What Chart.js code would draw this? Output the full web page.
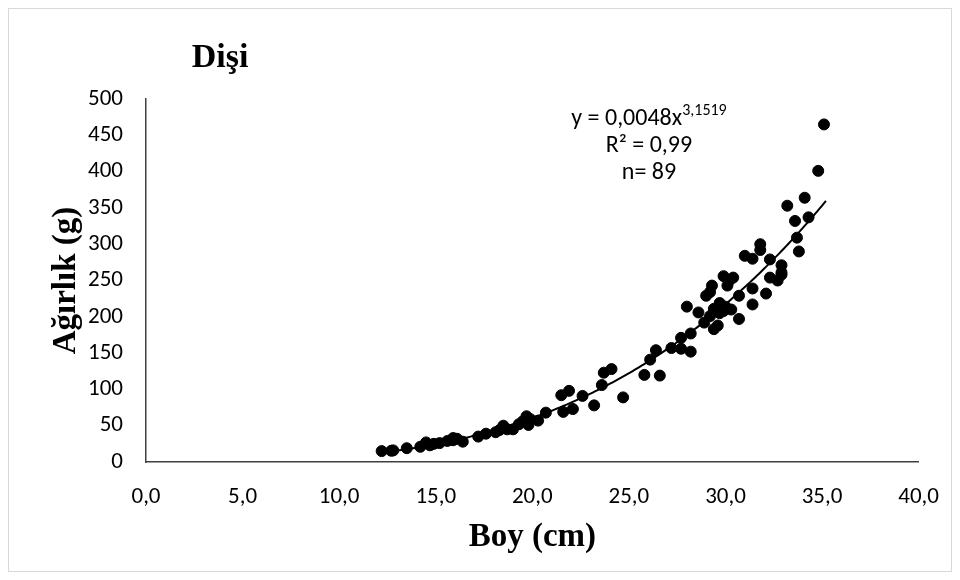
<!DOCTYPE html>
<html>
<head>
<meta charset="utf-8">
<script src="https://cdn.jsdelivr.net/npm/chart.js"></script>
<style>
  html, body { margin: 0; padding: 0; background: #fff; }
  #wrap { position: relative; width: 960px; height: 580px; }
  #frame { position: absolute; left: 8px; top: 8px; width: 944px; height: 564px; border: 1px solid #d9d9d9; box-sizing: border-box; }
  canvas { position: absolute; left: 0; top: 0; }
</style>
</head>
<body>
<div id="wrap">
  <div id="frame"></div>
  <canvas id="c" width="960" height="580"></canvas>
</div>
<script>
// Boy (cm) and Ağırlık (g)
const boy = [
  12.2, 12.7, 12.8, 13.5, 14.2, 14.5, 14.7, 14.9, 15.2, 15.6,
  15.9, 15.9, 16.1, 16.4, 17.2, 17.6, 18.1, 18.3, 18.5, 18.7,
  19.0, 19.3, 19.5, 19.7, 19.8, 19.9, 20.3, 20.7, 21.5, 21.9,
  21.6, 22.1, 22.6, 23.2, 23.6, 23.7, 24.1, 24.7, 25.8, 26.1,
  26.4, 26.6, 27.2, 27.7, 27.7, 28.2, 28.2, 28.0, 28.6, 28.9,
  29.2, 29.2, 29.3, 29.4, 29.6, 29.4, 29.7, 29.7, 29.9, 30.1,
  30.0, 30.4, 30.3, 30.7, 30.7, 31.4, 31.4, 31.0, 31.4, 35.1,
  34.8, 34.1, 33.2, 34.3, 33.6, 33.7, 33.8, 31.8, 31.8, 32.3,
  32.9, 32.9, 32.9, 32.3, 32.7, 32.1, 29.9, 30.2, 29.0
];
const agirlik = [
  15, 15.5, 16, 19, 21, 27, 23, 25, 26, 29,
  33, 30, 32, 28, 35, 39, 41, 44, 50, 45,
  45, 52, 56, 63, 51, 59, 57, 68, 92, 98,
  69, 73, 91, 78, 106, 123, 128, 89, 120, 141,
  154, 119, 157, 156, 171, 152, 177, 214, 206, 192,
  201, 234, 243, 183, 188, 211, 219, 205, 256, 243,
  214, 254, 210, 197, 229, 217, 239, 284, 280, 465,
  401, 364, 353, 337, 332, 309, 290, 300, 292, 279,
  271, 261, 258, 254, 250, 232, 208, 250, 229
];
const xTicks = [0, 5, 10, 15, 20, 25, 30, 35, 40];
const yTicks = [0, 50, 100, 150, 200, 250, 300, 350, 400, 450, 500];

// power trendline y = a * x^b as printed on the chart
const fitA = 0.0048;
const fitB = 3.1519;
const fitFrom = 12.2;
const fitTo = 35.2;

const points = boy.map((x, i) => ({ x: x, y: agirlik[i] }));
const tickFont = "Carlito, Calibri, 'Open Sans', sans-serif";
const serif = "'Liberation Serif', 'DejaVu Serif', serif";

const extras = {
  id: 'extras',
  beforeDatasetsDraw(chart) {
    const ctx = chart.ctx, xs = chart.scales.x, ys = chart.scales.y;
    ctx.save();
    ctx.beginPath();
    for (let i = 0; i <= 200; i++) {
      const v = fitFrom + (fitTo - fitFrom) * i / 200;
      const px = xs.getPixelForValue(v), py = ys.getPixelForValue(fitA * Math.pow(v, fitB));
      if (i === 0) ctx.moveTo(px, py); else ctx.lineTo(px, py);
    }
    ctx.strokeStyle = '#000';
    ctx.lineWidth = 2;
    ctx.stroke();
    ctx.restore();
  },
  afterDraw(chart) {
    const ctx = chart.ctx, area = chart.chartArea;
    ctx.save();
    ctx.fillStyle = '#000';
    ctx.textBaseline = 'middle';
    ctx.textAlign = 'center';

    // chart title and axis titles
    ctx.font = "bold 34px " + serif;
    ctx.fillText('Dişi', 220, 58);
    ctx.font = "bold 33px " + serif;
    ctx.fillText('Boy (cm)', (area.left + area.right) / 2, 537);
    ctx.save();
    ctx.translate(66, (area.top + area.bottom) / 2);
    ctx.rotate(-Math.PI / 2);
    ctx.fillText('Ağırlık (g)', 0, 0);
    ctx.restore();

    // equation label
    const base = 'y = 0,0048x', sup = '3,1519';
    ctx.font = "24px " + tickFont;
    const w1 = ctx.measureText(base).width;
    ctx.font = "16px " + tickFont;
    const w2 = ctx.measureText(sup).width;
    const left = 649 - (w1 + w2) / 2;
    ctx.textAlign = 'left';
    ctx.font = "24px " + tickFont;
    ctx.fillText(base, left, 119);
    ctx.font = "16px " + tickFont;
    ctx.fillText(sup, left + w1, 111);
    ctx.textAlign = 'center';
    ctx.font = "24px " + tickFont;
    ctx.fillText('R² = 0,99', 649, 146);
    ctx.fillText('n= 89', 649, 173);
    ctx.restore();
  }
};

new Chart(document.getElementById('c'), {
  type: 'scatter',
  data: {
    datasets: [{
      data: points,
      backgroundColor: '#000',
      borderColor: '#000',
      pointRadius: 5.5,
      pointHoverRadius: 5.5
    }]
  },
  options: {
    responsive: false,
    animation: false,
    layout: { padding: { left: 20, right: 40, top: 99, bottom: 20 } },
    plugins: { legend: { display: false }, tooltip: { enabled: false } },
    scales: {
      x: {
        type: 'linear', min: 0, max: 40,
        afterBuildTicks: s => { s.ticks = xTicks.map(v => ({ value: v })); },
        afterFit: s => { s.height = 580 - 462 - 20; },
        grid: { display: false, drawTicks: false },
        border: { color: '#404040', width: 1.5 },
        ticks: {
          color: '#000', padding: 21,
          font: { family: tickFont, size: 23 },
          callback: v => v.toFixed(1).replace('.', ',')
        }
      },
      y: {
        type: 'linear', min: 0, max: 500,
        afterBuildTicks: s => { s.ticks = yTicks.map(v => ({ value: v })); },
        afterFit: s => { s.width = 146 - 20; },
        grid: { display: false, drawTicks: false },
        border: { color: '#404040', width: 1.5 },
        ticks: {
          color: '#000', padding: 23,
          font: { family: tickFont, size: 23 },
          callback: v => String(v)
        }
      }
    }
  },
  plugins: [extras]
});
</script>
</body>
</html>
